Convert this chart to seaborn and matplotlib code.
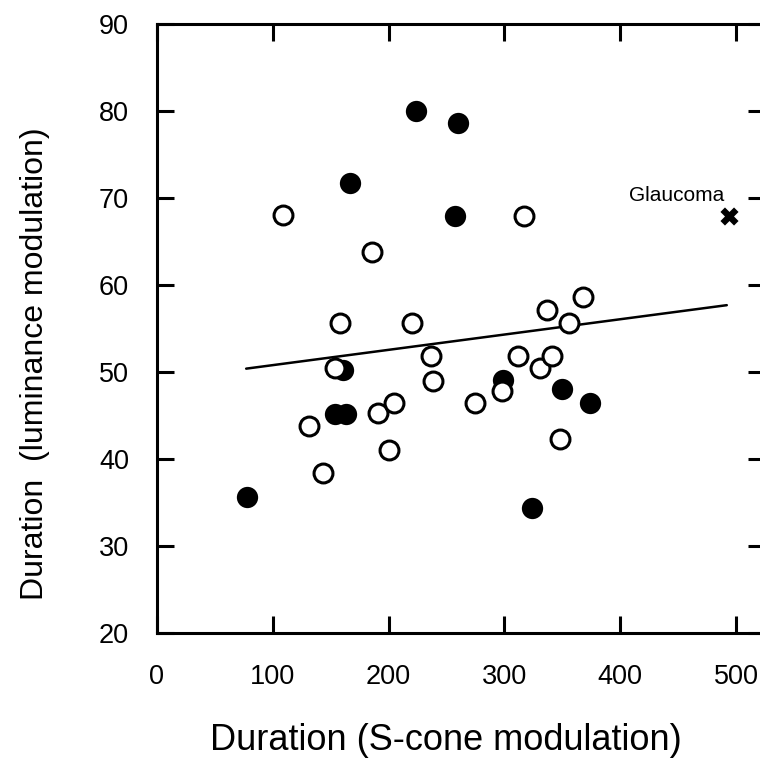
import matplotlib
matplotlib.use("Agg")
import matplotlib.pyplot as plt
import pandas as pd
import seaborn as sns

# filled circles
filled_x = [167, 224, 260, 257, 161, 154, 163, 78, 299, 350, 374, 324]
filled_y = [71.8, 80.0, 78.6, 67.9, 50.3, 45.2, 45.2, 35.6, 49.1, 48.1, 46.5, 34.4]

# open circles
open_x = [109, 186, 317, 158, 220, 154, 131, 191, 205, 200, 143,
          237, 238, 275, 298, 312, 331, 341, 337, 356, 368, 348]
open_y = [68.1, 63.8, 67.9, 55.6, 55.7, 50.5, 43.8, 45.3, 46.4, 41.0, 38.4,
          51.9, 49.0, 46.5, 47.8, 51.9, 50.5, 51.8, 57.1, 55.6, 58.6, 42.3]

# glaucoma case
glaucoma_x = [494]
glaucoma_y = [67.9]

# regression line end points
fit_x = [77, 492]
fit_y = [50.4, 57.7]

x_ticks = [0, 100, 200, 300, 400, 500]
y_ticks = [20, 30, 40, 50, 60, 70, 80, 90]

sns.set_style("ticks", {"axes.edgecolor": "black", "xtick.color": "black",
                        "ytick.color": "black", "text.color": "black"})
plt.rcParams["font.family"] = ["Liberation Sans", "DejaVu Sans"]

fig = plt.figure(figsize=(7.6, 7.71), dpi=100)
ax = fig.add_axes([157 / 760, 138 / 771, 608 / 760, 608.7 / 771])

filled_df = pd.DataFrame({"x": filled_x, "y": filled_y})
open_df = pd.DataFrame({"x": open_x, "y": open_y})
fit_df = pd.DataFrame({"x": fit_x, "y": fit_y})

sns.lineplot(data=fit_df, x="x", y="y", color="black", linewidth=1.8, ax=ax, zorder=2)
sns.scatterplot(data=filled_df, x="x", y="y", s=235, color="black",
                edgecolor="black", linewidth=0, ax=ax, zorder=3)
sns.scatterplot(data=open_df, x="x", y="y", s=185, facecolor="white",
                edgecolor="black", linewidth=2.2, ax=ax, zorder=4)
sns.scatterplot(x=glaucoma_x, y=glaucoma_y, marker="X", s=170, color="black",
                edgecolor="black", linewidth=0, ax=ax, zorder=5)
ax.text(glaucoma_x[0] - 4, glaucoma_y[0] + 2.4, "Glaucoma", ha="right",
        va="center", fontsize=15, color="black")

ax.set_xlim(0, 525)
ax.set_ylim(20, 90)
ax.set_xticks(x_ticks)
ax.set_yticks(y_ticks)
ax.set_xticklabels([str(t) for t in x_ticks])
ax.set_yticklabels([str(t) for t in y_ticks])

for side in ["left", "right", "top", "bottom"]:
    ax.spines[side].set_visible(True)
    ax.spines[side].set_linewidth(2.2)
    ax.spines[side].set_color("black")
ax.tick_params(direction="in", length=12, width=2.2, top=True, right=True,
               labelsize=19.5, colors="black", labelcolor="black")
ax.tick_params(axis="y", pad=20)
ax.tick_params(axis="x", pad=22)

ax.set_xlabel("")
ax.set_ylabel("")
fig.text(446 / 760, 1 - 740 / 771, "Duration (S-cone modulation)",
         ha="center", va="center", fontsize=26, color="black")
fig.text(35 / 760, 1 - 364 / 771, "Duration  (luminance modulation)",
         ha="center", va="center", rotation=90, fontsize=23, color="black")

fig.savefig("out.png", dpi=100)
